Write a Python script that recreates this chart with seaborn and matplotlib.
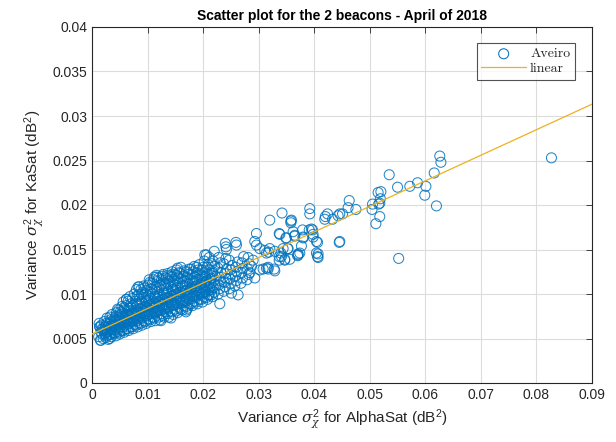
import numpy as np
import pandas as pd
import matplotlib
matplotlib.use("Agg")
import matplotlib.pyplot as plt
import seaborn as sns

# Values (AlphaSat variance vs KaSat variance, dB^2)
# dense cluster near the origin
dense_x = [
    0.0012, 0.0015, 0.0016, 0.0014, 0.0018, 0.0013,
    0.0020, 0.0023, 0.0021, 0.0024, 0.0022, 0.0025,
    0.0029, 0.0031, 0.0028, 0.0032, 0.0030, 0.0033, 0.0027,
    0.0035, 0.0038, 0.0036, 0.0039, 0.0037, 0.0040, 0.0036,
    0.0043, 0.0046, 0.0044, 0.0047, 0.0045, 0.0048, 0.0044, 0.0046,
    0.0050, 0.0053, 0.0051, 0.0054, 0.0052, 0.0055, 0.0051, 0.0054, 0.0056,
    0.0058, 0.0061, 0.0059, 0.0062, 0.0060, 0.0063, 0.0058, 0.0062, 0.0062,
    0.0066, 0.0069, 0.0067, 0.0070, 0.0068, 0.0071, 0.0066, 0.0070, 0.0068,
    0.0074, 0.0077, 0.0075, 0.0078, 0.0076, 0.0079, 0.0074, 0.0078, 0.0076, 0.0080,
    0.0082, 0.0085, 0.0083, 0.0086, 0.0084, 0.0087, 0.0082, 0.0086, 0.0083, 0.0085,
    0.0090, 0.0093, 0.0091, 0.0094, 0.0092, 0.0095, 0.0090, 0.0094, 0.0091, 0.0093,
    0.0098, 0.0101, 0.0099, 0.0102, 0.0100, 0.0103, 0.0098, 0.0102, 0.0099, 0.0101, 0.0103,
    0.0106, 0.0109, 0.0107, 0.0110, 0.0108, 0.0111, 0.0106, 0.0110, 0.0107, 0.0109, 0.0112,
    0.0114, 0.0117, 0.0115, 0.0118, 0.0116, 0.0119, 0.0114, 0.0118, 0.0115, 0.0117, 0.0116,
    0.0122, 0.0125, 0.0123, 0.0126, 0.0124, 0.0127, 0.0122, 0.0126, 0.0123, 0.0125, 0.0128,
    0.0130, 0.0133, 0.0131, 0.0134, 0.0132, 0.0135, 0.0130, 0.0134, 0.0131, 0.0133, 0.0136,
    0.0138, 0.0141, 0.0139, 0.0142, 0.0140, 0.0143, 0.0138, 0.0142, 0.0139, 0.0141, 0.0144,
    0.0146, 0.0149, 0.0147, 0.0150, 0.0148, 0.0151, 0.0146, 0.0150, 0.0147, 0.0149, 0.0152,
    0.0154, 0.0157, 0.0155, 0.0158, 0.0156, 0.0159, 0.0154, 0.0158, 0.0155, 0.0157, 0.0160,
    0.0163, 0.0166, 0.0164, 0.0167, 0.0165, 0.0168, 0.0163, 0.0167, 0.0164, 0.0166,
    0.0172, 0.0175, 0.0173, 0.0176, 0.0174, 0.0177, 0.0172, 0.0176, 0.0173, 0.0175,
    0.0181, 0.0184, 0.0182, 0.0185, 0.0183, 0.0186, 0.0181, 0.0185, 0.0182, 0.0184,
    0.0190, 0.0193, 0.0191, 0.0194, 0.0192, 0.0195, 0.0190, 0.0194, 0.0191, 0.0193,
    0.0199, 0.0202, 0.0200, 0.0203, 0.0201, 0.0204, 0.0199, 0.0203, 0.0200, 0.0202,
    0.0208, 0.0211, 0.0209, 0.0212, 0.0210, 0.0213, 0.0208, 0.0212, 0.0209, 0.0211,
    0.0217, 0.0220, 0.0218, 0.0221, 0.0219, 0.0222, 0.0217, 0.0221, 0.0218,
    0.0227, 0.0230, 0.0228, 0.0231, 0.0229, 0.0232, 0.0227, 0.0231, 0.0228,
    0.0237, 0.0240, 0.0238, 0.0241, 0.0239, 0.0242, 0.0237, 0.0241,
    0.0247, 0.0250, 0.0248, 0.0251, 0.0249, 0.0252, 0.0247,
    0.0257, 0.0260, 0.0258, 0.0261, 0.0259, 0.0262,
    0.0268, 0.0271, 0.0269, 0.0272, 0.0270, 0.0273,
    0.0279, 0.0282, 0.0280, 0.0283, 0.0281,
]
dense_y = [
    0.0052, 0.0048, 0.0057, 0.0063, 0.0061, 0.0067,
    0.0050, 0.0055, 0.0059, 0.0064, 0.0069, 0.0051,
    0.0049, 0.0054, 0.0058, 0.0062, 0.0066, 0.0071, 0.0073,
    0.0052, 0.0056, 0.0060, 0.0064, 0.0068, 0.0072, 0.0077,
    0.0053, 0.0058, 0.0062, 0.0066, 0.0070, 0.0074, 0.0079, 0.0083,
    0.0055, 0.0059, 0.0063, 0.0067, 0.0071, 0.0075, 0.0080, 0.0086, 0.0091,
    0.0057, 0.0061, 0.0065, 0.0069, 0.0073, 0.0077, 0.0082, 0.0087, 0.0094,
    0.0059, 0.0063, 0.0067, 0.0071, 0.0075, 0.0079, 0.0084, 0.0089, 0.0097,
    0.0061, 0.0066, 0.0070, 0.0074, 0.0078, 0.0082, 0.0087, 0.0092, 0.0100, 0.0105,
    0.0063, 0.0068, 0.0072, 0.0076, 0.0080, 0.0084, 0.0089, 0.0094, 0.0099, 0.0108,
    0.0065, 0.0070, 0.0074, 0.0078, 0.0082, 0.0086, 0.0091, 0.0096, 0.0102, 0.0109,
    0.0067, 0.0072, 0.0076, 0.0080, 0.0084, 0.0088, 0.0093, 0.0098, 0.0104, 0.0110, 0.0116,
    0.0069, 0.0074, 0.0078, 0.0082, 0.0086, 0.0090, 0.0095, 0.0100, 0.0106, 0.0112, 0.0119,
    0.0070, 0.0076, 0.0080, 0.0084, 0.0088, 0.0092, 0.0097, 0.0102, 0.0108, 0.0114, 0.0121,
    0.0071, 0.0078, 0.0082, 0.0086, 0.0090, 0.0094, 0.0099, 0.0104, 0.0110, 0.0116, 0.0122,
    0.0074, 0.0080, 0.0084, 0.0088, 0.0092, 0.0096, 0.0101, 0.0106, 0.0112, 0.0118, 0.0123,
    0.0074, 0.0081, 0.0086, 0.0090, 0.0094, 0.0098, 0.0103, 0.0108, 0.0114, 0.0120, 0.0125,
    0.0077, 0.0083, 0.0088, 0.0092, 0.0096, 0.0100, 0.0105, 0.0110, 0.0116, 0.0122, 0.0127,
    0.0079, 0.0085, 0.0090, 0.0094, 0.0098, 0.0102, 0.0107, 0.0112, 0.0118, 0.0124, 0.0130,
    0.0082, 0.0087, 0.0092, 0.0096, 0.0100, 0.0104, 0.0109, 0.0114, 0.0120, 0.0126,
    0.0084, 0.0089, 0.0094, 0.0098, 0.0102, 0.0106, 0.0111, 0.0116, 0.0122, 0.0128,
    0.0087, 0.0092, 0.0097, 0.0101, 0.0105, 0.0109, 0.0114, 0.0119, 0.0125, 0.0131,
    0.0089, 0.0094, 0.0099, 0.0103, 0.0107, 0.0111, 0.0116, 0.0121, 0.0127, 0.0133,
    0.0091, 0.0097, 0.0102, 0.0106, 0.0110, 0.0114, 0.0119, 0.0124, 0.0130, 0.0137,
    0.0094, 0.0099, 0.0104, 0.0108, 0.0112, 0.0117, 0.0122, 0.0127, 0.0133, 0.0141,
    0.0097, 0.0102, 0.0107, 0.0111, 0.0115, 0.0120, 0.0125, 0.0131, 0.0137,
    0.0100, 0.0106, 0.0110, 0.0115, 0.0119, 0.0124, 0.0129, 0.0135, 0.0141,
    0.0103, 0.0108, 0.0113, 0.0118, 0.0123, 0.0128, 0.0134, 0.0140,
    0.0106, 0.0112, 0.0117, 0.0122, 0.0127, 0.0132, 0.0138,
    0.0109, 0.0115, 0.0120, 0.0125, 0.0130, 0.0136,
    0.0112, 0.0118, 0.0124, 0.0129, 0.0135, 0.0142,
    0.0116, 0.0122, 0.0128, 0.0134, 0.0141,
]

# second layer of the cluster core, sitting between the first layer's points
core_x = [
    0.0018, 0.0019, 0.0017,
    0.0026, 0.0027, 0.0025, 0.0026,
    0.0034, 0.0033, 0.0035, 0.0034, 0.0032,
    0.0041, 0.0042, 0.0040, 0.0041, 0.0043,
    0.0049, 0.0048, 0.0050, 0.0049, 0.0051, 0.0048,
    0.0057, 0.0056, 0.0058, 0.0057, 0.0055, 0.0058,
    0.0064, 0.0065, 0.0063, 0.0064, 0.0066, 0.0065,
    0.0072, 0.0071, 0.0073, 0.0072, 0.0070, 0.0073,
    0.0080, 0.0081, 0.0079, 0.0080, 0.0082, 0.0081,
    0.0088, 0.0087, 0.0089, 0.0088, 0.0086, 0.0089, 0.0088,
    0.0096, 0.0097, 0.0095, 0.0096, 0.0098, 0.0097, 0.0095,
    0.0104, 0.0103, 0.0105, 0.0104, 0.0102, 0.0105, 0.0104,
    0.0112, 0.0113, 0.0111, 0.0112, 0.0114, 0.0113, 0.0111,
    0.0120, 0.0119, 0.0121, 0.0120, 0.0118, 0.0121, 0.0120,
    0.0128, 0.0129, 0.0127, 0.0128, 0.0130, 0.0129, 0.0127,
    0.0136, 0.0135, 0.0137, 0.0136, 0.0134, 0.0137, 0.0136,
    0.0144, 0.0145, 0.0143, 0.0144, 0.0146, 0.0145, 0.0143,
    0.0152, 0.0151, 0.0153, 0.0152, 0.0150, 0.0153, 0.0152,
    0.0160, 0.0161, 0.0159, 0.0160, 0.0162, 0.0161, 0.0159,
    0.0170, 0.0169, 0.0171, 0.0170, 0.0168, 0.0171, 0.0170,
    0.0179, 0.0180, 0.0178, 0.0179, 0.0181, 0.0180, 0.0178,
    0.0188, 0.0187, 0.0189, 0.0188, 0.0186, 0.0189, 0.0188,
    0.0197, 0.0198, 0.0196, 0.0197, 0.0199, 0.0198,
    0.0206, 0.0205, 0.0207, 0.0206, 0.0204, 0.0207,
    0.0215, 0.0216, 0.0214, 0.0215, 0.0217, 0.0216,
]
core_y = [
    0.0055, 0.0060, 0.0065,
    0.0053, 0.0057, 0.0062, 0.0067,
    0.0055, 0.0059, 0.0064, 0.0069, 0.0074,
    0.0056, 0.0060, 0.0065, 0.0070, 0.0075,
    0.0057, 0.0061, 0.0066, 0.0070, 0.0077, 0.0082,
    0.0059, 0.0063, 0.0068, 0.0072, 0.0079, 0.0085,
    0.0061, 0.0066, 0.0071, 0.0076, 0.0081, 0.0092,
    0.0063, 0.0068, 0.0073, 0.0077, 0.0085, 0.0095,
    0.0065, 0.0070, 0.0075, 0.0080, 0.0087, 0.0097,
    0.0067, 0.0072, 0.0078, 0.0083, 0.0089, 0.0100, 0.0105,
    0.0069, 0.0075, 0.0080, 0.0085, 0.0091, 0.0100, 0.0107,
    0.0071, 0.0077, 0.0082, 0.0087, 0.0093, 0.0102, 0.0113,
    0.0073, 0.0079, 0.0085, 0.0089, 0.0095, 0.0105, 0.0116,
    0.0074, 0.0081, 0.0086, 0.0091, 0.0097, 0.0107, 0.0118,
    0.0076, 0.0083, 0.0088, 0.0094, 0.0099, 0.0109, 0.0120,
    0.0078, 0.0085, 0.0091, 0.0096, 0.0101, 0.0111, 0.0117,
    0.0080, 0.0087, 0.0093, 0.0098, 0.0103, 0.0113, 0.0119,
    0.0081, 0.0088, 0.0095, 0.0100, 0.0105, 0.0115, 0.0121,
    0.0083, 0.0090, 0.0097, 0.0102, 0.0107, 0.0117, 0.0123,
    0.0086, 0.0092, 0.0100, 0.0104, 0.0109, 0.0119, 0.0125,
    0.0089, 0.0095, 0.0102, 0.0107, 0.0112, 0.0122, 0.0128,
    0.0091, 0.0097, 0.0104, 0.0109, 0.0114, 0.0124, 0.0130,
    0.0094, 0.0100, 0.0107, 0.0112, 0.0117, 0.0127,
    0.0096, 0.0102, 0.0109, 0.0115, 0.0120, 0.0130,
    0.0099, 0.0105, 0.0112, 0.0118, 0.0123, 0.0134,
]

# scattered points away from the cluster
sparse_x = [
    0.0016, 0.0032, 0.0014, 0.0062, 0.0083, 0.0116, 0.0137, 0.0154, 0.0124, 0.0142,
    0.0169, 0.0170, 0.0203, 0.0206, 0.0220, 0.0230, 0.0241, 0.0242, 0.0240, 0.0259,
    0.0260, 0.0251, 0.0263, 0.0209, 0.0284, 0.0287, 0.0290, 0.0293, 0.0293, 0.0296,
    0.0296, 0.0302, 0.0302, 0.0308, 0.0311, 0.0314, 0.0314, 0.0317, 0.0317, 0.0318,
    0.0320, 0.0320, 0.0328, 0.0329, 0.0329, 0.0337, 0.0337, 0.0337, 0.0338, 0.0340,
    0.0341, 0.0342, 0.0344, 0.0347, 0.0347, 0.0349, 0.0350, 0.0352, 0.0353, 0.0356,
    0.0358, 0.0359, 0.0358, 0.0362, 0.0365, 0.0365, 0.0370, 0.0371, 0.0371, 0.0374,
    0.0377, 0.0379, 0.0380, 0.0380, 0.0391, 0.0392, 0.0392, 0.0395, 0.0397, 0.0398,
    0.0398, 0.0404, 0.0404, 0.0406, 0.0406, 0.0407, 0.0407, 0.0419, 0.0420, 0.0424,
    0.0433, 0.0443, 0.0445, 0.0446, 0.0446, 0.0451, 0.0461, 0.0463, 0.0475, 0.0504,
    0.0505, 0.0511, 0.0515, 0.0516, 0.0518, 0.0519, 0.0518, 0.0520, 0.0535, 0.0550,
    0.0552, 0.0572, 0.0586, 0.0599, 0.0601, 0.0616, 0.0620, 0.0626, 0.0628, 0.0827,
]
sparse_y = [
    0.0048, 0.0050, 0.0063, 0.0094, 0.0108, 0.0119, 0.0121, 0.0129, 0.0070, 0.0073,
    0.0080, 0.0082, 0.0144, 0.0144, 0.0148, 0.0089, 0.0153, 0.0150, 0.0157, 0.0158,
    0.0155, 0.0101, 0.0099, 0.0099, 0.0124, 0.0131, 0.0138, 0.0118, 0.0159, 0.0168,
    0.0155, 0.0151, 0.0127, 0.0128, 0.0149, 0.0146, 0.0129, 0.0130, 0.0128, 0.0147,
    0.0183, 0.0151, 0.0128, 0.0148, 0.0126, 0.0168, 0.0142, 0.0138, 0.0167, 0.0146,
    0.0142, 0.0191, 0.0151, 0.0139, 0.0138, 0.0163, 0.0163, 0.0151, 0.0151, 0.0139,
    0.0182, 0.0183, 0.0180, 0.0170, 0.0165, 0.0166, 0.0143, 0.0145, 0.0144, 0.0146,
    0.0154, 0.0172, 0.0163, 0.0164, 0.0172, 0.0196, 0.0190, 0.0173, 0.0172, 0.0164,
    0.0167, 0.0159, 0.0146, 0.0158, 0.0142, 0.0145, 0.0141, 0.0184, 0.0187, 0.0190,
    0.0184, 0.0188, 0.0158, 0.0190, 0.0159, 0.0190, 0.0197, 0.0205, 0.0195, 0.0195,
    0.0201, 0.0179, 0.0214, 0.0201, 0.0187, 0.0207, 0.0202, 0.0215, 0.0234, 0.0220,
    0.0140, 0.0221, 0.0225, 0.0211, 0.0221, 0.0236, 0.0199, 0.0255, 0.0248, 0.0253,
]

# "linear" fit line
fit_intercept = 0.0055
fit_slope = 0.287
x_ticks = [0, 0.01, 0.02, 0.03, 0.04, 0.05, 0.06, 0.07, 0.08, 0.09]
y_ticks = [0, 0.005, 0.01, 0.015, 0.02, 0.025, 0.03, 0.035, 0.04]

df = pd.DataFrame({
    "alphasat": dense_x + core_x + sparse_x,
    "kasat": dense_y + core_y + sparse_y,
})

sns.set_style("white")
plt.rcParams['font.family'] = ['Liberation Sans', 'DejaVu Sans']
plt.rcParams['mathtext.fontset'] = 'custom'
plt.rcParams['mathtext.rm'] = 'Liberation Sans'
plt.rcParams['mathtext.it'] = 'DejaVu Serif:italic'

blue = '#0072BD'
gold = '#EDB120'
dark = '#262626'

fig = plt.figure(figsize=(6.16, 4.42), dpi=100)
ax = fig.add_axes([92 / 616, 1 - 383 / 442, 500 / 616, 356 / 442])

sns.scatterplot(data=df, x="alphasat", y="kasat", ax=ax, marker='o', s=52,
                facecolors='none', edgecolors=blue, linewidth=0.75,
                alpha=0.85, label='Aveiro', zorder=3)

line_x = np.array([0.0, 0.09])
line_y = fit_intercept + fit_slope * line_x
sns.lineplot(x=line_x, y=line_y, ax=ax, color=gold, linewidth=0.9,
             label='linear', zorder=4)

ax.set_xlim(0, 0.09)
ax.set_ylim(0, 0.04)
ax.set_xticks(x_ticks)
ax.set_yticks(y_ticks)
ax.set_xticklabels([f"{t:g}" for t in x_ticks])
ax.set_yticklabels([f"{t:g}" for t in y_ticks])
ax.grid(True, color='#dcdcdc', linewidth=0.8)
ax.set_axisbelow(True)
ax.tick_params(direction='in', length=4, top=True, right=True,
               labelsize=10, colors=dark, width=0.6)
for side in ax.spines.values():
    side.set_color(dark)
    side.set_linewidth(0.8)

ax.set_title('Scatter plot for the 2 beacons - April of 2018',
             fontsize=10, fontweight='bold', color='black', pad=5)
ax.set_xlabel(r'Variance $\sigma^2_\chi$ for AlphaSat (dB$^2$)', fontsize=11, color=dark)
ax.set_ylabel(r'Variance $\sigma^2_\chi$ for KaSat (dB$^2$)', fontsize=11, color=dark)

leg = ax.legend(loc='upper right', prop={'family': 'cmr10', 'size': 10},
                frameon=True, fancybox=False, edgecolor=dark,
                borderpad=0.35, handlelength=3.2, handletextpad=0.3,
                labelspacing=0.15, bbox_to_anchor=(0.98, 0.975))
leg.get_frame().set_linewidth(0.8)
for h in leg.legend_handles:
    h.set_alpha(1)

fig.savefig('out.png', dpi=100, facecolor='white')
